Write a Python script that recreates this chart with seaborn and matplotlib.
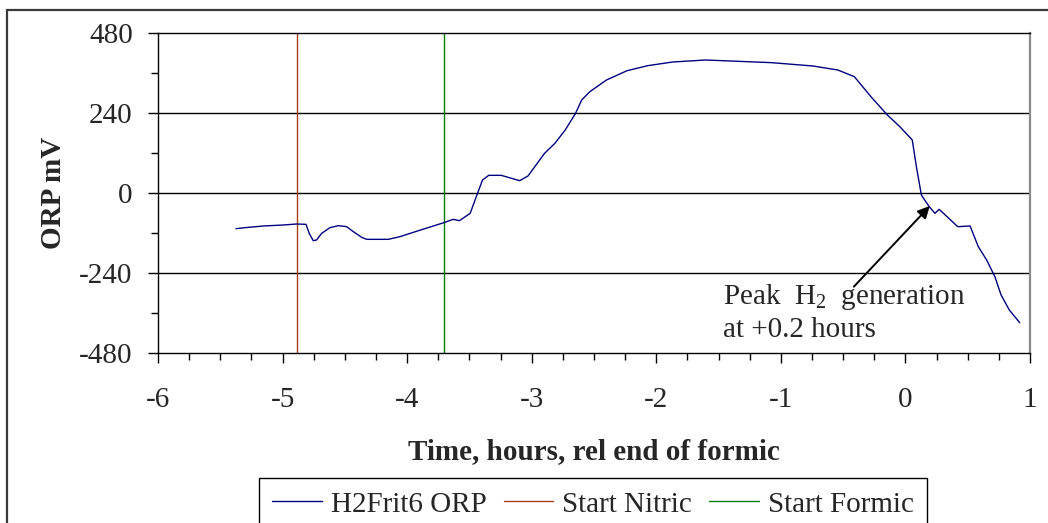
import matplotlib
matplotlib.use("Agg")
import matplotlib.pyplot as plt
from matplotlib.patches import Rectangle
from matplotlib.ticker import MultipleLocator
import seaborn as sns
import pandas as pd

############### Data
hours = [-5.374, -5.302, -5.155, -4.994, -4.887, -4.812, -4.786, -4.754, -4.727,
         -4.686, -4.620, -4.553, -4.486, -4.432, -4.365, -4.325, -4.151, -4.058,
         -3.892, -3.705, -3.630, -3.580, -3.494, -3.445, -3.395, -3.345, -3.245,
         -3.096, -3.030, -2.897, -2.814, -2.731, -2.648, -2.599, -2.533, -2.400,
         -2.234, -2.068, -1.869, -1.604, -1.405, -1.074, -0.742, -0.543, -0.410,
         -0.277, -0.145, -0.045, 0.055, 0.088, 0.128, 0.187, 0.237, 0.271,
         0.420, 0.519, 0.585, 0.652, 0.718, 0.768, 0.834, 0.917]
orp_mv = [-107, -104, -99, -96, -93, -94, -121, -143, -141,
          -121, -104, -98, -101, -116, -133, -139, -139, -131,
          -111, -89, -79, -83, -61, -11, 39, 53, 53,
          37, 51, 119, 149, 189, 239, 279, 304, 339,
          367, 382, 393, 399, 396, 391, 381, 369, 349,
          289, 234, 199, 159, 79, -6, -39, -61, -49,
          -101, -99, -161, -201, -251, -306, -351, -389]

start_nitric = -4.885
start_formic = -3.705

peak_xy = (0.196, -39)
arrow_tail = (-0.414, -281)
note_pos = (-1.465, -268)

series_label = "H2Frit6 ORP"
nitric_label = "Start Nitric"
formic_label = "Start Formic"

df = pd.DataFrame({"hours": hours, "orp": orp_mv})

############### Style
sns.set_style("ticks")
plt.rcParams["font.family"] = ["Liberation Serif", "DejaVu Serif"]
plt.rcParams["mathtext.default"] = "regular"
plt.rcParams["axes.unicode_minus"] = False
fs = 21

fig = plt.figure(figsize=(10.48, 5.23), dpi=100)
ax = fig.add_axes([158 / 1048, 1 - 353 / 523, (1030 - 158) / 1048, 320 / 523])

# grey outer chart frame, cut off at right and bottom like the original
frame_top = 1 - 10 / 523
fig.patches.append(Rectangle((7 / 1048, -0.1), 1.2, frame_top + 0.1,
                             transform=fig.transFigure, fill=False,
                             edgecolor="#3a3a3a", lw=1.6, zorder=0))

for y in (-240, 0, 240):
    ax.axhline(y, color="black", lw=1.0, zorder=1)

sns.lineplot(data=df, x="hours", y="orp", ax=ax, color="#000080", lw=1.0,
             estimator=None, sort=False, label=series_label, zorder=3)
ax.axvline(start_nitric, color="#A8401C", lw=1.0, label=nitric_label, zorder=2)
ax.axvline(start_formic, color="#008000", lw=1.0, label=formic_label, zorder=2)

ax.set_xlim(-6, 1)
ax.set_ylim(-480, 480)
ax.xaxis.set_major_locator(MultipleLocator(1))
ax.xaxis.set_minor_locator(MultipleLocator(0.25))
ax.yaxis.set_major_locator(MultipleLocator(240))
ax.yaxis.set_minor_locator(MultipleLocator(120))
ax.tick_params(which="major", direction="out", length=7.2, width=1.0,
               labelsize=fs, color="black")
ax.tick_params(which="minor", direction="out", length=4.8, width=1.0, color="black")
ax.tick_params(axis="x", which="major", pad=17)
ax.tick_params(axis="y", which="major", pad=11)

for side in ("left", "bottom", "top"):
    ax.spines[side].set_color("black")
    ax.spines[side].set_linewidth(1.0)
ax.spines["right"].set_color("#8a8a8a")
ax.spines["right"].set_linewidth(1.6)

ax.set_xlabel("Time, hours, rel end of formic", fontsize=fs, fontweight="bold",
              labelpad=18)
ax.set_ylabel("ORP mV", fontsize=fs, fontweight="bold", labelpad=9)

# annotation for the hydrogen peak
ax.annotate("", xy=peak_xy, xytext=arrow_tail,
            arrowprops=dict(arrowstyle="-|>", color="black", lw=1.4,
                            mutation_scale=18, shrinkA=0, shrinkB=0))
ax.text(note_pos[0], note_pos[1], "Peak  H$_{2}$  generation\nat +0.2 hours",
        fontsize=fs, ha="left", va="top", linespacing=1.25)

############### Legend below the plot
handles, labels = ax.get_legend_handles_labels()
ax.get_legend().remove()
leg = fig.legend(handles, labels, loc="upper center", ncol=3,
                 bbox_to_anchor=(593 / 1048, 1 - 478 / 523), fontsize=fs,
                 frameon=True, fancybox=False, framealpha=1, edgecolor="black",
                 handlelength=1.7, handletextpad=0.3, columnspacing=0.6,
                 borderpad=0.45, borderaxespad=0)
leg.get_frame().set_linewidth(1.0)

plt.savefig("out.png", dpi=100)
